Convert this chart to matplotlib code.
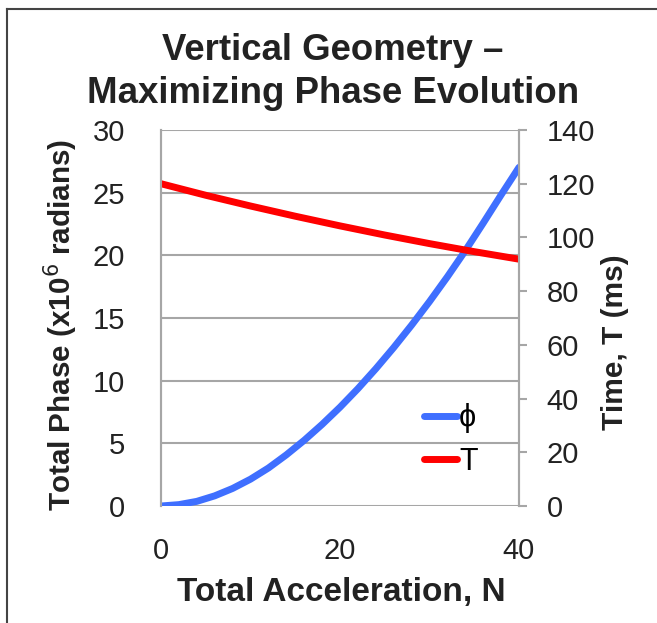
import matplotlib.pyplot as plt
from matplotlib.lines import Line2D

plt.rcParams['font.family'] = ['Liberation Sans', 'DejaVu Sans']

# total acceleration N
accel = [0, 2, 4, 6, 8, 10, 12, 14, 16, 18, 20, 22, 24, 26, 28, 30, 32, 34, 36, 38, 40]
# total phase, x10^6 rad
phase = [0, 0.11, 0.37, 0.81, 1.40, 2.14, 3.03, 4.08, 5.24, 6.51, 7.88, 9.36, 10.95,
         12.64, 14.43, 16.31, 18.29, 20.37, 22.57, 24.82, 27.02]
# time T, ms
accel_t = [0, 5, 10, 15, 20, 25, 30, 35, 40]
time_ms = [120, 115.7, 111.7, 107.9, 104.3, 100.9, 97.7, 94.7, 91.9]

blue = '#3f6fff'
red = '#ff0000'
grey = '#a6a6a6'
ink = '#222222'

fig = plt.figure(figsize=(6.57, 6.23), dpi=100)
ax = fig.add_axes([161/657, 1-506/623, 358/657, 376/623])
ax2 = ax.twinx()

ax.plot(accel, phase, color=blue, lw=5, solid_capstyle='round',
        solid_joinstyle='round', zorder=3)
ax2.plot(accel_t, time_ms, color=red, lw=5, solid_capstyle='butt',
         solid_joinstyle='round')

ax.set_xlim(0, 40)
ax.set_ylim(0, 30)
ax2.set_ylim(0, 140)
ax.set_xticks([0, 20, 40])
ax.set_yticks(range(0, 31, 5))
ax2.set_yticks(range(0, 141, 20))

ax.grid(axis='y', color=grey, lw=1.5)
ax.set_axisbelow(True)
for a in (ax, ax2):
    for s in a.spines.values():
        s.set_color(grey)
        s.set_linewidth(1.5)
    a.spines['top'].set_visible(False)
    a.spines['bottom'].set_visible(False)

ax.tick_params(axis='y', length=0, pad=26, labelsize=21, labelcolor=ink)
ax.tick_params(axis='x', length=0, pad=22, labelsize=21, labelcolor=ink)
ax2.tick_params(axis='y', length=6, width=1.5, color=grey, pad=14, labelsize=21,
                labelcolor=ink)

fig.text(61/657, 1-325/623, 'Total Phase (x10$^6$ radians)', rotation=90,
         ha='center', va='center', fontsize=21.3, fontweight='bold', color=ink)
fig.text(615/657, 1-342/623, 'Time, T (ms)', rotation=90,
         ha='center', va='center', fontsize=21.5, fontweight='bold', color=ink)
fig.text(341/657, 1-592/623, 'Total Acceleration, N',
         ha='center', va='center', fontsize=24, fontweight='bold', color=ink)
fig.text(333/657, 1-72/623, 'Vertical Geometry –\nMaximizing Phase Evolution',
         ha='center', va='center', fontsize=26.4, fontweight='bold', color=ink,
         linespacing=1.33)

handles = [Line2D([], [], color=blue, lw=5, solid_capstyle='round'),
           Line2D([], [], color=red, lw=5, solid_capstyle='round')]
ax.legend(handles, ['ϕ', 'T'], loc='center left', bbox_to_anchor=(0.7, 0.175),
          frameon=False, fontsize=22, handlelength=1.1, handletextpad=0.05,
          labelspacing=0.45, borderaxespad=0)

# frame round the figure
fig.add_artist(Line2D([7/657, 7/657], [0, 1-9/623], color='#444444', lw=1.5))
fig.add_artist(Line2D([7/657, 1], [1-9/623, 1-9/623], color='#444444', lw=1.5))

fig.savefig('out.png', dpi=100)
